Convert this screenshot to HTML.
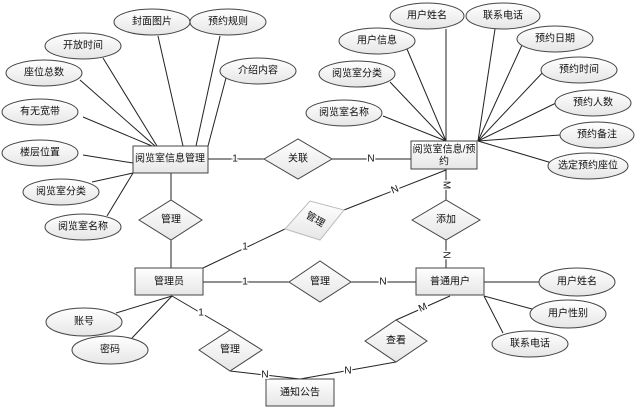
<!DOCTYPE html>
<html><head><meta charset="utf-8"><style>
html,body{margin:0;padding:0;background:#fff;}
text{font-family:"Liberation Sans","Noto Sans CJK SC",sans-serif;font-size:10px;fill:#111;text-anchor:middle;dominant-baseline:central;}
</style></head><body>
<svg width="643" height="409" viewBox="0 0 643 409" xmlns="http://www.w3.org/2000/svg">
<defs>
<linearGradient id="g" x1="0" y1="0" x2="0" y2="1"><stop offset="0" stop-color="#ffffff"/><stop offset="1" stop-color="#e6e6e6"/></linearGradient>
</defs>
<g stroke="#222" stroke-width="1" fill="none">
<!-- left entity attrs -->
<line x1="158" y1="36" x2="183" y2="146"/>
<line x1="220" y1="36" x2="196" y2="146"/>
<line x1="103" y1="58" x2="157" y2="146"/>
<line x1="80" y1="80" x2="155" y2="146"/>
<line x1="83" y1="117" x2="152" y2="146"/>
<line x1="83" y1="155" x2="133" y2="163"/>
<line x1="92" y1="182" x2="133" y2="173"/>
<line x1="107" y1="216" x2="133" y2="173"/>
<line x1="226" y1="78" x2="208" y2="146"/>
<!-- right entity attrs -->
<line x1="446" y1="29" x2="446" y2="141"/>
<line x1="495" y1="29" x2="478" y2="141"/>
<line x1="407" y1="49" x2="446" y2="141"/>
<line x1="390" y1="82" x2="446" y2="141"/>
<line x1="383" y1="116" x2="446" y2="141"/>
<line x1="522" y1="45" x2="478" y2="141"/>
<line x1="545" y1="70" x2="478" y2="141"/>
<line x1="556" y1="103" x2="478" y2="141"/>
<line x1="560" y1="135" x2="478" y2="141"/>
<line x1="552" y1="163" x2="478" y2="141"/>
<!-- relations -->
<line x1="208" y1="159" x2="264" y2="159"/>
<line x1="332" y1="159" x2="411" y2="159"/>
<line x1="171" y1="173" x2="171" y2="268"/>
<line x1="446" y1="169" x2="446" y2="268"/>
<line x1="446" y1="170" x2="344" y2="210"/>
<line x1="203" y1="268" x2="285" y2="229"/>
<line x1="203" y1="282" x2="416" y2="282"/>
<line x1="484" y1="282" x2="540" y2="282"/>
<line x1="484" y1="296" x2="532" y2="309"/>
<line x1="484" y1="296" x2="503" y2="333"/>
<line x1="172" y1="296" x2="116" y2="313"/>
<line x1="172" y1="296" x2="132" y2="338"/>
<line x1="172" y1="296" x2="230" y2="330"/>
<line x1="230" y1="371" x2="300" y2="379"/>
<line x1="300" y1="379" x2="396" y2="362"/>
<line x1="396" y1="320" x2="450" y2="296"/>
</g>
<g stroke="#444" stroke-width="1" fill="url(#g)">
<ellipse cx="152" cy="22" rx="38" ry="13"/>
<ellipse cx="228" cy="22" rx="38" ry="13"/>
<ellipse cx="83" cy="46" rx="38" ry="13"/>
<ellipse cx="44" cy="73" rx="38" ry="13"/>
<ellipse cx="258" cy="71" rx="38" ry="13"/>
<ellipse cx="40" cy="112" rx="38" ry="13"/>
<ellipse cx="40" cy="153" rx="38" ry="13"/>
<ellipse cx="61" cy="192" rx="38" ry="13"/>
<ellipse cx="83" cy="227" rx="38" ry="13"/>
<ellipse cx="427" cy="16" rx="37" ry="13"/>
<ellipse cx="503" cy="16" rx="37" ry="13"/>
<ellipse cx="377" cy="41" rx="38" ry="13"/>
<ellipse cx="555" cy="39" rx="38" ry="13"/>
<ellipse cx="357" cy="74" rx="38" ry="13"/>
<ellipse cx="579" cy="70" rx="38" ry="13"/>
<ellipse cx="593" cy="103" rx="38" ry="13"/>
<ellipse cx="344" cy="113" rx="38" ry="13"/>
<ellipse cx="597" cy="135" rx="37" ry="13"/>
<ellipse cx="588" cy="166" rx="40" ry="13"/>
<ellipse cx="577" cy="282" rx="38" ry="14"/>
<ellipse cx="568" cy="314" rx="38" ry="14"/>
<ellipse cx="530" cy="344" rx="38" ry="13"/>
<ellipse cx="84" cy="322" rx="38" ry="14"/>
<ellipse cx="110" cy="350" rx="38" ry="14"/>
<rect x="133" y="146" width="75" height="27"/>
<rect x="411" y="141" width="66" height="28"/>
<rect x="135" y="268" width="68" height="27"/>
<rect x="416" y="268" width="68" height="27"/>
<rect x="266" y="379" width="68" height="27"/>
<polygon points="264,159 298,139 332,159 298,179"/>
<polygon points="139,220 171,200 202,220 171,240"/>
<polygon points="412,220 446,200 480,220 446,240"/>
<polygon points="289,282 320,261 351,282 320,302"/>
<polygon points="199,350 230,330 262,350 230,371"/>
<polygon points="365,341 396,320 427,341 396,362"/>
</g>
<polygon points="285,229 310,201 344,210 320,240" fill="url(#g)" stroke="#bbb"/>
<text x="152" y="22">封面图片</text>
<text x="228" y="22">预约规则</text>
<text x="83" y="46">开放时间</text>
<text x="44" y="73">座位总数</text>
<text x="258" y="71">介绍内容</text>
<text x="40" y="112">有无宽带</text>
<text x="40" y="153">楼层位置</text>
<text x="61" y="192">阅览室分类</text>
<text x="83" y="227">阅览室名称</text>
<text x="427" y="16">用户姓名</text>
<text x="503" y="16">联系电话</text>
<text x="377" y="41">用户信息</text>
<text x="555" y="39">预约日期</text>
<text x="357" y="74">阅览室分类</text>
<text x="579" y="70">预约时间</text>
<text x="593" y="103">预约人数</text>
<text x="344" y="113">阅览室名称</text>
<text x="597" y="135">预约备注</text>
<text x="588" y="166">选定预约座位</text>
<text x="577" y="282">用户姓名</text>
<text x="568" y="314">用户性别</text>
<text x="530" y="344">联系电话</text>
<text x="84" y="322">账号</text>
<text x="110" y="350">密码</text>
<text x="170" y="159">阅览室信息管理</text>
<text x="444" y="150">阅览室信息/预</text>
<text x="444" y="162">约</text>
<text x="169" y="282">管理员</text>
<text x="450" y="282">普通用户</text>
<text x="300" y="393">通知公告</text>
<text x="298" y="159">关联</text>
<text x="171" y="220">管理</text>
<text x="446" y="220">添加</text>
<text x="320" y="282">管理</text>
<text x="230" y="350">管理</text>
<text x="396" y="341">查看</text>
<text x="315" y="220" transform="rotate(30 315 220)">管理</text>
<g style="font-size:10px">
<text x="235" y="159" style="fill:#fff;stroke:#fff;stroke-width:3">1</text><text x="235" y="159">1</text>
<text x="371" y="159" style="fill:#fff;stroke:#fff;stroke-width:3">N</text><text x="371" y="159">N</text>
<text x="245" y="247" style="fill:#fff;stroke:#fff;stroke-width:3">1</text><text x="245" y="247">1</text>
<text x="395" y="190" style="fill:#fff;stroke:#fff;stroke-width:3">N</text><text x="395" y="190" transform="rotate(-22 395 190)">N</text>
<text x="446" y="185" transform="rotate(90 446 185)" style="fill:#fff;stroke:#fff;stroke-width:3">M</text><text x="446" y="185" transform="rotate(90 446 185)">M</text>
<text x="446" y="255" transform="rotate(90 446 255)" style="fill:#fff;stroke:#fff;stroke-width:3">N</text><text x="446" y="255" transform="rotate(90 446 255)">N</text>
<text x="245" y="282" style="fill:#fff;stroke:#fff;stroke-width:3">1</text><text x="245" y="282">1</text>
<text x="383" y="282" style="fill:#fff;stroke:#fff;stroke-width:3">N</text><text x="383" y="282">N</text>
<text x="201" y="313" style="fill:#fff;stroke:#fff;stroke-width:3">1</text><text x="201" y="313">1</text>
<text x="265" y="375" style="fill:#fff;stroke:#fff;stroke-width:3">N</text><text x="265" y="375">N</text>
<text x="348" y="371" style="fill:#fff;stroke:#fff;stroke-width:3">N</text><text x="348" y="371">N</text>
<text x="423" y="308" style="fill:#fff;stroke:#fff;stroke-width:3">M</text><text x="423" y="308" transform="rotate(-24 423 308)">M</text>
</g>
</svg>
</body></html>
